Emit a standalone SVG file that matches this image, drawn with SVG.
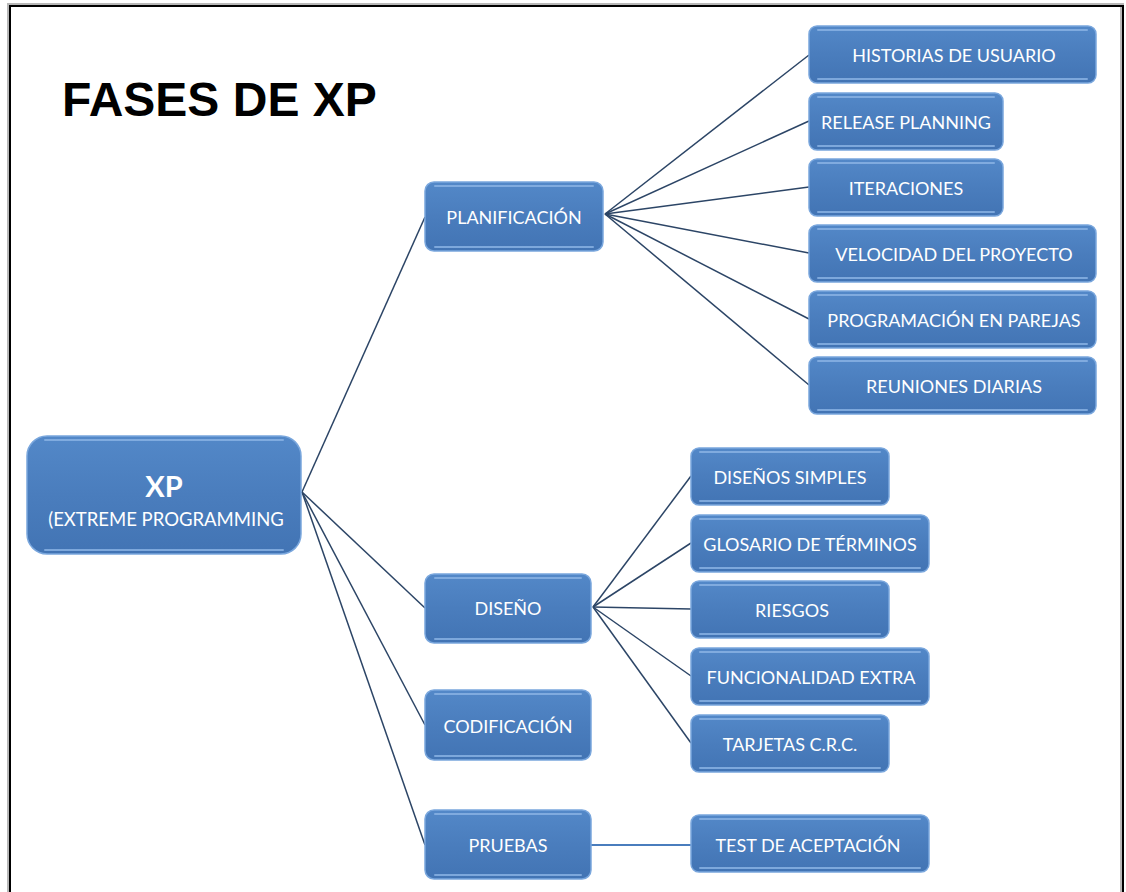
<svg xmlns="http://www.w3.org/2000/svg" width="1126" height="892" viewBox="0 0 1126 892">
<defs>
<linearGradient id="g" x1="0" y1="0" x2="0" y2="1">
<stop offset="0" stop-color="#5388c8"/>
<stop offset="0.5" stop-color="#4a7dbd"/>
<stop offset="1" stop-color="#4274b4"/>
</linearGradient>
<style>
.box{fill:url(#g);stroke:#7aa7dd;stroke-width:1.5}
.hl{stroke:#8cb5e6;stroke-width:2;stroke-linecap:round;opacity:0.8}
.t{font-family:Lato,"Liberation Sans",sans-serif;font-size:18px;fill:#ffffff;text-anchor:middle}
.c{stroke:#2c4566;stroke-width:1.5;fill:none}
</style>
</defs>
<rect x="0" y="0" width="1126" height="892" fill="#ffffff"/>
<path d="M10,900 V6 H1123 V900" fill="none" stroke="#b8b8b8" stroke-width="4" transform="translate(-1,-1)"/>
<path d="M10,900 V6 H1123 V900" fill="none" stroke="#000000" stroke-width="2"/>
<text x="62" y="116" font-family="'Liberation Sans',Arial,sans-serif" font-size="48" font-weight="bold" fill="#000000">FASES DE XP</text>

<g id="connectors">
<line class="c" x1="302" y1="492" x2="425" y2="217"/>
<line class="c" x1="302" y1="492" x2="425" y2="608"/>
<line class="c" x1="302" y1="492" x2="425" y2="725"/>
<line class="c" x1="302" y1="492" x2="425" y2="845"/>
<line class="c" x1="605" y1="214" x2="809" y2="55"/>
<line class="c" x1="605" y1="214" x2="809" y2="121"/>
<line class="c" x1="605" y1="214" x2="809" y2="187"/>
<line class="c" x1="605" y1="214" x2="809" y2="253"/>
<line class="c" x1="605" y1="214" x2="809" y2="319"/>
<line class="c" x1="605" y1="214" x2="809" y2="385"/>
<line class="c" x1="593" y1="607" x2="691" y2="476"/>
<line class="c" x1="593" y1="607" x2="691" y2="543"/>
<line class="c" x1="593" y1="607" x2="691" y2="609"/>
<line class="c" x1="593" y1="607" x2="691" y2="676"/>
<line class="c" x1="593" y1="607" x2="691" y2="743"/>
<line x1="591" y1="845" x2="691" y2="845" stroke="#4a7dbd" stroke-width="2"/>
</g>

<g id="xp">
<rect class="box" x="27" y="436" width="274" height="118" rx="20"/>
<line class="hl" x1="45" y1="440" x2="283" y2="440"/>
<line class="hl" x1="45" y1="550" x2="283" y2="550"/>
<text class="t" x="164" y="497" style="font-size:29px;font-weight:bold">XP</text>
<text class="t" x="166" y="526" style="font-size:18.5px">(EXTREME PROGRAMMING</text>
</g>

<g id="planificacion">
<rect class="box" x="425" y="182" width="178" height="69" rx="9"/>
<line class="hl" x1="435" y1="186" x2="593" y2="186"/>
<line class="hl" x1="435" y1="247" x2="593" y2="247"/>
<text class="t" x="514" y="224">PLANIFICACIÓN</text>
</g>
<g id="diseno">
<rect class="box" x="425" y="574" width="166" height="69" rx="9"/>
<line class="hl" x1="435" y1="578" x2="581" y2="578"/>
<line class="hl" x1="435" y1="639" x2="581" y2="639"/>
<text class="t" x="508" y="615">DISEÑO</text>
</g>
<g id="codificacion">
<rect class="box" x="425" y="690" width="166" height="70" rx="9"/>
<line class="hl" x1="435" y1="694" x2="581" y2="694"/>
<line class="hl" x1="435" y1="756" x2="581" y2="756"/>
<text class="t" x="508" y="733">CODIFICACIÓN</text>
</g>
<g id="pruebas">
<rect class="box" x="425" y="810" width="166" height="69" rx="9"/>
<line class="hl" x1="435" y1="814" x2="581" y2="814"/>
<line class="hl" x1="435" y1="875" x2="581" y2="875"/>
<text class="t" x="508" y="852">PRUEBAS</text>
</g>

<g id="historias">
<rect class="box" x="809" y="26" width="287" height="57" rx="8"/>
<line class="hl" x1="818" y1="30" x2="1087" y2="30"/>
<line class="hl" x1="818" y1="79" x2="1087" y2="79"/>
<text class="t" x="954" y="62">HISTORIAS DE USUARIO</text>
</g>
<g id="release">
<rect class="box" x="809" y="93" width="194" height="57" rx="8"/>
<line class="hl" x1="818" y1="97" x2="994" y2="97"/>
<line class="hl" x1="818" y1="146" x2="994" y2="146"/>
<text class="t" x="906" y="129">RELEASE PLANNING</text>
</g>
<g id="iteraciones">
<rect class="box" x="809" y="159" width="194" height="57" rx="8"/>
<line class="hl" x1="818" y1="163" x2="994" y2="163"/>
<line class="hl" x1="818" y1="212" x2="994" y2="212"/>
<text class="t" x="906" y="195">ITERACIONES</text>
</g>
<g id="velocidad">
<rect class="box" x="809" y="225" width="287" height="57" rx="8"/>
<line class="hl" x1="818" y1="229" x2="1087" y2="229"/>
<line class="hl" x1="818" y1="278" x2="1087" y2="278"/>
<text class="t" x="954" y="261">VELOCIDAD DEL PROYECTO</text>
</g>
<g id="programacion">
<rect class="box" x="809" y="291" width="287" height="57" rx="8"/>
<line class="hl" x1="818" y1="295" x2="1087" y2="295"/>
<line class="hl" x1="818" y1="344" x2="1087" y2="344"/>
<text class="t" x="954" y="327">PROGRAMACIÓN EN PAREJAS</text>
</g>
<g id="reuniones">
<rect class="box" x="809" y="357" width="287" height="57" rx="8"/>
<line class="hl" x1="818" y1="361" x2="1087" y2="361"/>
<line class="hl" x1="818" y1="410" x2="1087" y2="410"/>
<text class="t" x="954" y="393">REUNIONES DIARIAS</text>
</g>

<g id="disenos-simples">
<rect class="box" x="691" y="448" width="198" height="57" rx="8"/>
<line class="hl" x1="700" y1="452" x2="880" y2="452"/>
<line class="hl" x1="700" y1="501" x2="880" y2="501"/>
<text class="t" x="790" y="484">DISEÑOS SIMPLES</text>
</g>
<g id="glosario">
<rect class="box" x="691" y="515" width="238" height="57" rx="8"/>
<line class="hl" x1="700" y1="519" x2="920" y2="519"/>
<line class="hl" x1="700" y1="568" x2="920" y2="568"/>
<text class="t" x="810" y="551">GLOSARIO DE TÉRMINOS</text>
</g>
<g id="riesgos">
<rect class="box" x="691" y="581" width="198" height="57" rx="8"/>
<line class="hl" x1="700" y1="585" x2="880" y2="585"/>
<line class="hl" x1="700" y1="634" x2="880" y2="634"/>
<text class="t" x="792" y="617">RIESGOS</text>
</g>
<g id="funcionalidad">
<rect class="box" x="691" y="648" width="238" height="57" rx="8"/>
<line class="hl" x1="700" y1="652" x2="920" y2="652"/>
<line class="hl" x1="700" y1="701" x2="920" y2="701"/>
<text class="t" x="811" y="684">FUNCIONALIDAD EXTRA</text>
</g>
<g id="tarjetas">
<rect class="box" x="691" y="715" width="198" height="57" rx="8"/>
<line class="hl" x1="700" y1="719" x2="880" y2="719"/>
<line class="hl" x1="700" y1="768" x2="880" y2="768"/>
<text class="t" x="790" y="751">TARJETAS C.R.C.</text>
</g>
<g id="test">
<rect class="box" x="691" y="815" width="238" height="57" rx="8"/>
<line class="hl" x1="700" y1="819" x2="920" y2="819"/>
<line class="hl" x1="700" y1="868" x2="920" y2="868"/>
<text class="t" x="808" y="852">TEST DE ACEPTACIÓN</text>
</g>
</svg>
